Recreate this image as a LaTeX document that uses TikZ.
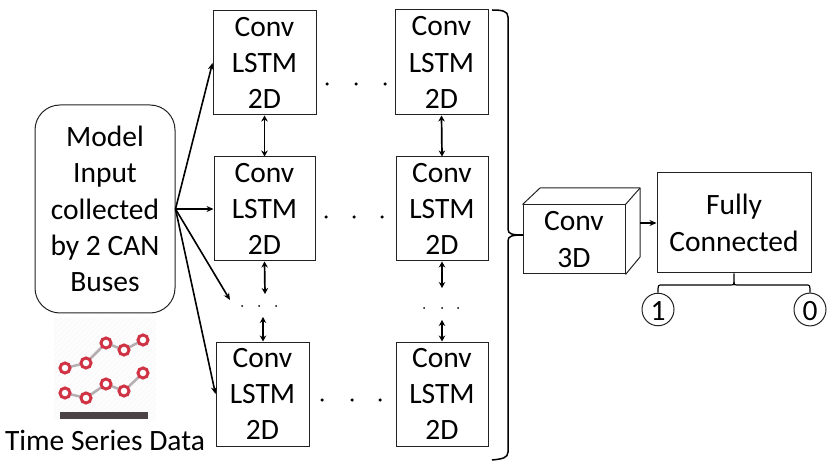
\documentclass[tikz,border=0pt]{standalone}
\usepackage{fontspec}
\setmainfont{Carlito}
\usetikzlibrary{arrows.meta,shapes.geometric}
\definecolor{inkc}{HTML}{222222}
\definecolor{samplered}{HTML}{CF3344}
\definecolor{tracegrey}{HTML}{B5ADAF}
\definecolor{bargrey}{HTML}{4A4245}
\tikzset{
  x=1pt,y=-1pt,
  labeltext/.style={font=\fontsize{29.5}{36.3}\selectfont,align=center,text=black,inner sep=0pt,
    execute at begin node={\rule{0pt}{23pt}}},
  boxnode/.style={labeltext,draw=inkc,line width=1pt,fill=white,minimum height=104pt},
  flow/.style={draw=black,line width=1.6pt,-{Stealth[length=7pt,width=6pt]}},
  twoway/.style={draw=black,line width=1.7pt,{Stealth[length=6pt,width=6.5pt]}-{Stealth[length=6pt,width=6.5pt]}},
  bigdot/.style={circle,fill=black,inner sep=0pt,minimum size=3.5pt},
  smalldot/.style={circle,fill=black,inner sep=0pt,minimum size=2pt},
  trace/.style={draw=tracegrey,line width=2.5pt},
  sample/.style={circle,draw=samplered,fill=white,line width=3pt,minimum size=10pt,inner sep=0pt},
  outcome/.style={labeltext,ellipse,draw=inkc,line width=1pt,fill=white,minimum width=32pt,minimum height=30pt},
}
\begin{document}
\begin{tikzpicture}
\useasboundingbox (0,0) rectangle (830,470);

% input block
\node[labeltext,draw=inkc,line width=1pt,rounded corners=25pt,minimum width=140pt,minimum height=208pt] (input) at (105,209)
  {Model\\Input\\collected\\by 2 CAN\\Buses};

% recurrent cells
\node[boxnode,minimum width=103pt] (a1) at (264.5,63) {Conv\\LSTM\\2D};
\node[boxnode,minimum width=93pt,minimum height=105pt] (b1) at (441.5,62.5) {Conv\\LSTM\\2D};
\node[boxnode,minimum width=101pt] (a2) at (264.5,209) {Conv\\LSTM\\2D};
\node[boxnode,minimum width=92pt] (b2) at (442,209) {Conv\\LSTM\\2D};
\node[boxnode,minimum width=93pt] (a4) at (262.5,394) {Conv\\LSTM\\2D};
\node[boxnode,minimum width=92pt] (b4) at (442,394) {Conv\\LSTM\\2D};

% ellipsis between the columns
\foreach \n/\px/\py in {p1/327/84,p2/356/84,p3/385/84,q1/326/217,q2/354/217,q3/382/217,r1/322/400,r2/352/400,r3/380/400}
  \node[bigdot] (\n) at (\px,\py) {};

% ellipsis between the rows
\foreach \n/\px/\py in {s1/242/306,s2/259/306,s3/276/306,t1/424/308,t2/442/308,t3/458/308}
  \node[smalldot] (\n) at (\px,\py) {};

% free ends of the arrows that stop at the ellipsis
\coordinate (fan) at (230,300);
\coordinate (leftup) at (265,294);
\coordinate (leftdown) at (263,317);
\coordinate (rightup) at (442,288);
\coordinate (rightdown) at (442,320);
\coordinate (src) at (input.east);

% fan-out from the input
\draw[flow] (src) -- (a1.west);
\draw[flow] (src) -- (a2.west);
\draw[flow] (src) -- (fan);
\draw[flow] (src) -- (a4.west);

% vertical links
\draw[twoway] (a1.south) -- (a2.north);
\draw[twoway] (b1.south) -- (b2.north);
\draw[twoway] (a2.south) -- (leftup);
\draw[twoway] (b2.south) -- (rightup);
\draw[twoway] (leftdown) -- (leftdown |- a4.north);
\draw[twoway] (rightdown) -- (b4.north);

% 3D convolution block
\node[labeltext,draw=inkc,line width=1pt,fill=white,minimum width=102pt,minimum height=69pt] (cube) at (574,239.5) {Conv\\3D};
\coordinate (backTL) at (540,188);
\coordinate (backTR) at (640,188);
\coordinate (backBR) at (640,257);
\draw[draw=inkc,line width=1pt,line join=round] (cube.north west) -- (backTL) -- (backTR) -- (backBR) -- (cube.south east);
\draw[draw=inkc,line width=1pt] (cube.north east) -- (backTR);

% bracket collecting the last column
\coordinate (brTop) at (492,10);
\coordinate (brBot) at (492,460);
\coordinate (brTip) at (523,235);
\draw[draw=black,line width=1.5pt]
  (brTop) .. controls (502,10) and (508,11) .. (508,17)
  -- (508,229) .. controls (508,234) and (512,235) .. (brTip)
  (brTip) .. controls (512,235) and (508,236) .. (508,241)
  -- (508,452) .. controls (508,458) and (502,459) .. (brBot);

% output block
\node[labeltext,draw=inkc,line width=1pt,minimum width=154pt,minimum height=100pt] (fc) at (734,223) {Fully\\Connected};
\draw[flow] (backTR |- fc.west) -- (fc.west);

% binary outcome
\node[outcome] (one) at (658,309.5) {1};
\node[outcome] (zero) at (810,309.5) {0};
\draw[draw=black,line width=1.2pt] (fc.south) -- (734,282) .. controls (734,285) .. (731,285) -- (662,285) .. controls (658,285) .. (one.north);
\draw[draw=black,line width=1.2pt] (734,282) .. controls (734,285) .. (737,285) -- (806,285) .. controls (810,285) .. (zero.north);

% time series icon
\begin{scope}
  \clip (54,318) rectangle (156,420);
  \fill[black!2] (54,318) rectangle (156,420);
  \foreach \d in {0,5,...,205}
    \draw[white,line width=1pt] (54+\d,318) -- (54+\d-102,420);
\end{scope}
\foreach \n/\px/\py in {u1/65/368,u2/86/363,u3/106/343,u4/124/350,u5/143/340,v1/65/393,v2/86/398,v3/106/384,v4/124/391,v5/143/373}
  \coordinate (\n) at (\px,\py);
\draw[trace] (u1) -- (u2) -- (u3) -- (u4) -- (u5);
\draw[trace] (v1) -- (v2) -- (v3) -- (v4) -- (v5);
\foreach \n in {u1,u2,u3,u4,u5,v1,v2,v3,v4,v5}
  \node[sample] at (\n) {};
\fill[bargrey] (60,412) rectangle (148,419);
\node[labeltext] (tsd) at (105,439) {Time Series Data};
\end{tikzpicture}
\end{document}
